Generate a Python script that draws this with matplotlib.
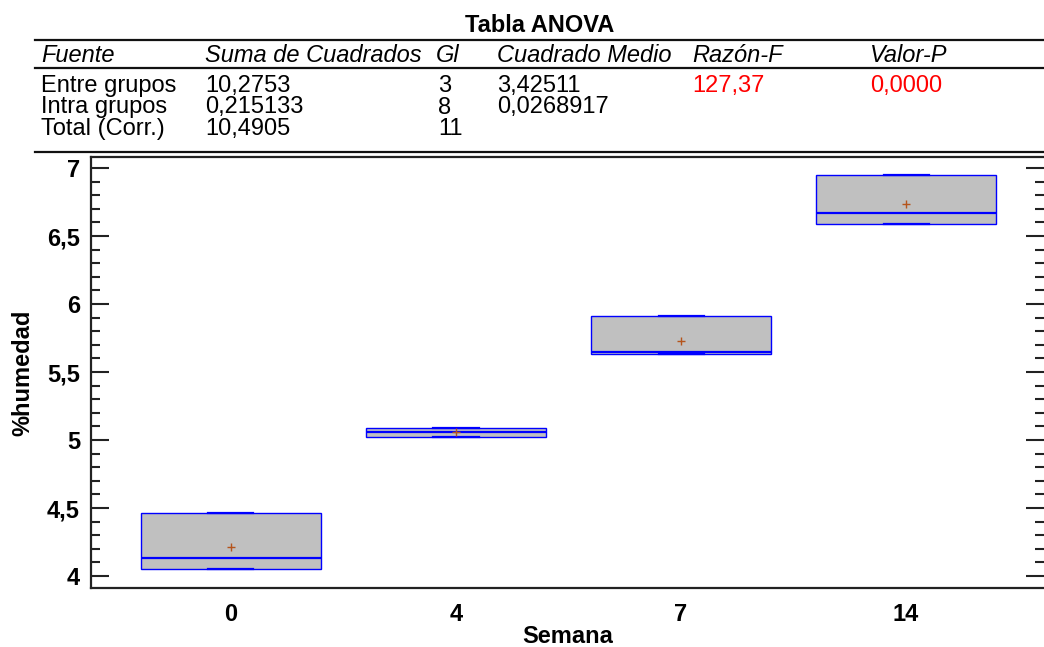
import matplotlib.pyplot as plt
import numpy as np
from matplotlib.ticker import MultipleLocator, FuncFormatter

plt.rcParams['font.family'] = ['Liberation Sans', 'DejaVu Sans']

# data: three samples per week
semanas = ['0', '4', '7', '14']
humedad = [
    [4.05, 4.13, 4.46],
    [5.02, 5.06, 5.09],
    [5.63, 5.65, 5.91],
    [6.59, 6.67, 6.95],
]

# ANOVA table text
cab = ['Fuente', 'Suma de Cuadrados', 'Gl', 'Cuadrado Medio', 'Raz\u00f3n-F', 'Valor-P']
filas = [
    ['Entre grupos', '10,2753', '3', '3,42511', '127,37', '0,0000'],
    ['Intra grupos', '0,215133', '8', '0,0268917', '', ''],
    ['Total (Corr.)', '10,4905', '11', '', '', ''],
]

W, H = 1044, 647
fig = plt.figure(figsize=(W / 100, H / 100), dpi=100)

def fx(px):
    return px / W

def fy(py):
    return 1 - py / H

fs = 17

# table
fig.text(fx(540), fy(32), 'Tabla ANOVA', ha='center', va='baseline',
         fontsize=fs, fontweight='bold')
col_x = [41, 205, 436, 497, 692, 870]
for x, t in zip(col_x, cab):
    fig.text(fx(x), fy(62), t, ha='left', va='baseline', fontsize=fs, style='italic')
row_y = [92, 113.5, 135]
for y, fila in zip(row_y, filas):
    for j, (x, t) in enumerate(zip(col_x, fila)):
        if not t:
            continue
        c = 'red' if j >= 4 else 'black'
        fig.text(fx(x + (2 if j == 2 else 0)), fy(y), t, ha='left', va='baseline',
                 fontsize=fs, color=c)
for y in [40, 68, 152]:
    fig.add_artist(plt.Line2D([fx(35), 1], [fy(y), fy(y)], color='#111111', lw=1.6))

# box plot
ax = fig.add_axes([fx(91), fy(588), fx(1044 - 91), (588 - 157) / H])
stats = []
for lab, vals in zip(semanas, humedad):
    v = np.array(vals)
    stats.append(dict(label=lab, med=np.median(v), q1=v.min(), q3=v.max(),
                      whislo=v.min(), whishi=v.max(), mean=v.mean(), fliers=[]))
ax.bxp(stats, positions=range(len(semanas)), widths=0.8, patch_artist=True,
       showmeans=True, capwidths=0.2,
       boxprops=dict(facecolor='#c0c0c0', edgecolor='#0000ff', lw=1.0),
       medianprops=dict(color='#0000ff', lw=1.6),
       whiskerprops=dict(color='#0000ff', lw=1.0),
       capprops=dict(color='#0000ff', lw=1.6),
       meanprops=dict(marker='+', markeredgecolor='#b5541c', markersize=6, mew=1.0))

ax.set_xlim(-0.622, 3.613)
ax.set_ylim(3.912, 7.081)
ax.yaxis.set_major_locator(MultipleLocator(0.5))
ax.yaxis.set_minor_locator(MultipleLocator(0.1))
ax.yaxis.set_major_formatter(FuncFormatter(lambda v, p: f'{v:g}'.replace('.', ',')))
ax.tick_params(axis='y', which='major', direction='in', length=13, width=1.5,
               right=True, pad=8, labelsize=fs, color='#222222')
ax.tick_params(axis='y', which='minor', direction='in', length=6.5, width=1.5,
               right=True, color='#222222')
ax.tick_params(axis='x', length=0, pad=11, labelsize=fs)
for t in ax.get_xticklabels() + ax.get_yticklabels():
    t.set_fontweight('bold')
ax.spines['right'].set_visible(False)
for s in ['left', 'top', 'bottom']:
    ax.spines[s].set_linewidth(1.6)
    ax.spines[s].set_color('#222222')

ax.set_xlabel('Semana', fontsize=fs, fontweight='bold', labelpad=-1)
ax.set_ylabel('%humedad', fontsize=fs, fontweight='bold', labelpad=9)

fig.savefig('out.png', dpi=100)
